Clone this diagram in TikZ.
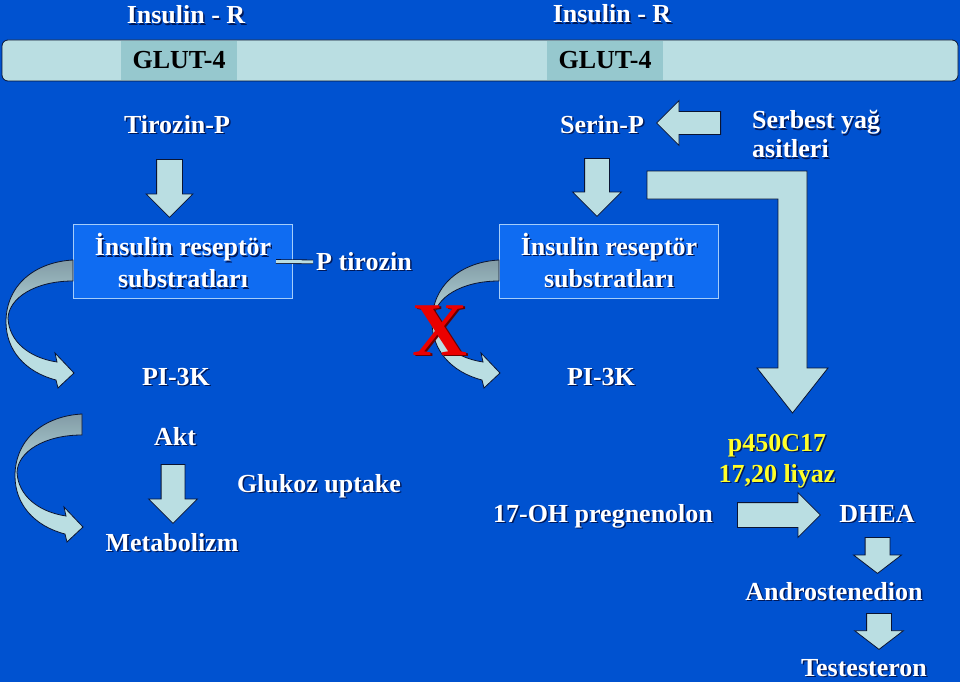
\documentclass[tikz,border=0pt]{standalone}
\usepackage{fontspec}
\setmainfont{Liberation Serif}
\usetikzlibrary{shapes.arrows,calc}
\definecolor{bgblue}{RGB}{0,82,208}
\definecolor{boxblue}{RGB}{15,108,242}
\definecolor{boxline}{RGB}{165,205,250}
\definecolor{barfill}{RGB}{186,222,226}
\definecolor{glutfill}{RGB}{150,200,206}
\definecolor{darkline}{RGB}{10,20,50}
\definecolor{arrgray}{RGB}{130,155,165}
\definecolor{txtshadow}{RGB}{0,25,90}
\definecolor{enzyellow}{RGB}{255,255,40}
\definecolor{crossred}{RGB}{235,0,0}
\newcommand{\shd}[1]{\rlap{\kern1.5pt\raisebox{-1.5pt}{\color{txtshadow}#1}}#1}

\begin{document}
\begin{tikzpicture}[x=1pt, y=-1pt,
    txt/.style={text=white, font=\bfseries\fontsize{26}{31}\selectfont, inner sep=0pt, anchor=base},
    irsbox/.style={draw=boxline, fill=boxblue, line width=1pt, minimum width=219pt, minimum height=74pt, align=center, text=white, font=\bfseries\fontsize{26}{32}\selectfont, inner sep=0pt},
    glutbox/.style={fill=glutfill, minimum width=116pt, minimum height=39.5pt, inner sep=0pt, text=black, font=\bfseries\fontsize{26}{31}\selectfont},
    blockarr/.style n args={4}{single arrow, draw=darkline, fill=barfill, line width=0.8pt, inner sep=#1, single arrow head extend=#2, minimum height=#3, shape border rotate=#4, anchor=tail},
    curvarr/.pic={
        \draw[darkline, line width=0.8pt, top color=arrgray, bottom color=barfill, middle color=barfill]
            (0,0) .. controls (-38,2) and (-67,25) .. (-67,62)
            .. controls (-67,90) and (-48,112) .. (-17,120)
            -- (-15,128) -- (1,113) -- (-18,93) -- (-16,102)
            .. controls (-43,98) and (-64,82) .. (-65,58)
            .. controls (-64,38) and (-38,21) .. (0,21) -- cycle;
    }
]

\useasboundingbox (0,0) rectangle (960,682);
\fill[bgblue] (0,0) rectangle (960,682);

% Membrane bar with the two GLUT-4 channels
\draw[fill=barfill, draw=darkline, rounded corners=6pt, line width=0.8pt] (2,40) rectangle (958,81);
\node[glutbox] (glut1) at (179,60.5) {GLUT-4};
\node[glutbox] (glut2) at (605,60.5) {GLUT-4};

\node[txt] (insR1) at (186,24) {\shd{Insulin - R}};
\node[txt] (insR2) at (612,23) {\shd{Insulin - R}};

% Left pathway (tyrosine phosphorylation)
\node[txt] (tirP) at (177,133) {\shd{Tirozin-P}};
\node[irsbox] (irs1) at (183,261.5) {\shd{İnsulin reseptör}\\\shd{substratları}};
\node[txt] (ptir) at (364,270) {\shd{P tirozin}};
\node[txt] (pik1) at (176,385) {\shd{PI-3K}};
\node[txt] (akt) at (175,445) {\shd{Akt}};
\node[txt] (metab) at (172,551) {\shd{Metabolizm}};
\node[txt] (gluk) at (319,492) {\shd{Glukoz uptake}};

% Right pathway (serine phosphorylation)
\node[txt] (serP) at (602,133) {\shd{Serin-P}};
\node[txt, anchor=north west, align=left, font=\bfseries\fontsize{26}{29}\selectfont] (fatty) at (752,110) {\shd{Serbest yağ}\\\shd{asitleri}};
\node[irsbox] (irs2) at (609,261) {\shd{İnsulin reseptör}\\\shd{substratları}};
\node[txt] (pik2) at (601,385) {\shd{PI-3K}};

% Steroid chain
\node[txt, text=enzyellow, anchor=north, align=center] (enzyme) at (777,434) {\shd{p450C17}\\\shd{17,20 liyaz}};
\node[txt] (preg) at (603,522) {\shd{17-OH pregnenolon}};
\node[txt] (dhea) at (877,522) {\shd{DHEA}};
\node[txt] (andro) at (834,600) {\shd{Androstenedion}};
\node[txt] (testo) at (864,676) {\shd{Testesteron}};

% Block arrows
\node[blockarr={12.5pt}{10.5pt}{58pt}{270}] (arrTir) at (169.5,159) {};
\node[blockarr={12pt}{12pt}{58pt}{270}] (arrSer) at (597,158) {};
\node[blockarr={11pt}{11pt}{64pt}{180}] (arrFat) at (721,123) {};
\node[blockarr={11.5pt}{12.5pt}{59pt}{270}] (arrAkt) at (173,464) {};
\node[blockarr={12pt}{10pt}{83pt}{0}] (arrPreg) at (737,515) {};
\node[blockarr={12pt}{11.5pt}{36pt}{270}, single arrow tip angle=105] (arrDhea) at (877.5,537) {};
\node[blockarr={12pt}{12pt}{36pt}{270}, single arrow tip angle=105] (arrAndro) at (879,613) {};

% Fatty acids to p450C17
\draw[fill=barfill, draw=darkline, line width=0.8pt] (647,171) -- (807,171) -- (807,368) -- (828,368)
    -- (792.5,413) -- (757,368) -- (778,368) -- (778,199) -- (647,199) -- cycle;

% Curved arrows
\pic at (73,260) {curvarr};
\pic at (499,260) {curvarr};
\pic at (82,414) {curvarr};

\draw[draw=darkline, double=barfill, double distance=3pt, line width=0.8pt] ([xshift=-17pt]irs1.east) -- ([xshift=-3pt]ptir.west);

% Blocked step
\node[txt, text=crossred, font=\bfseries\fontsize{76}{76}\selectfont] (cross) at (440,355) {\rlap{\kern1.5pt\raisebox{-1.5pt}{\color{red!40!black}X}}X};

\end{tikzpicture}
\end{document}
